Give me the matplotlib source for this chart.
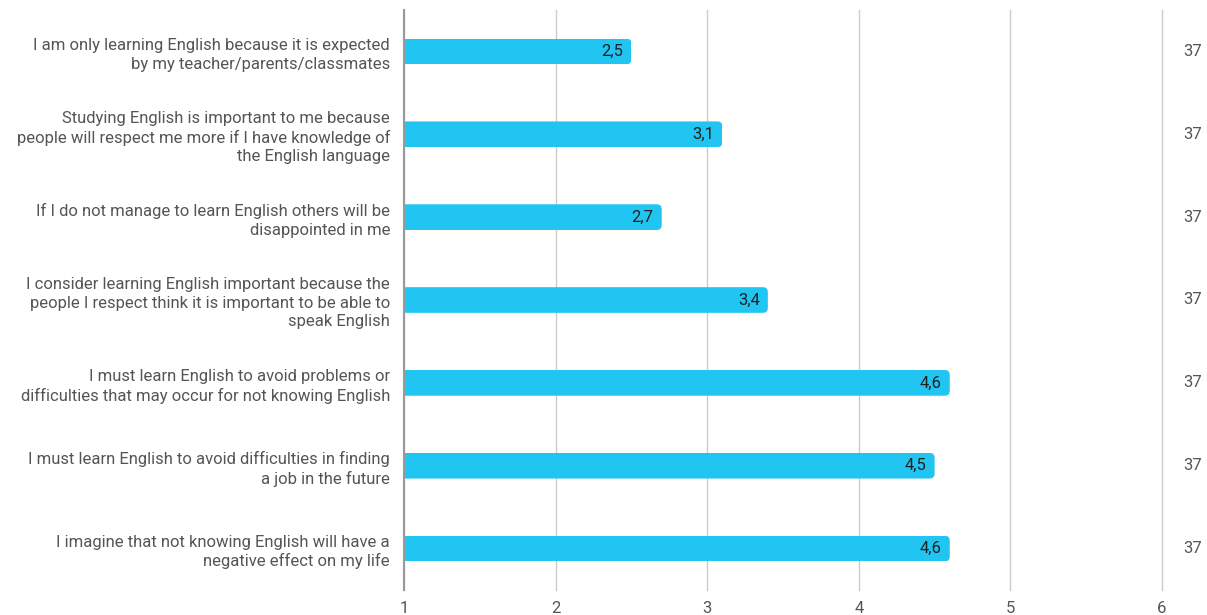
import matplotlib
matplotlib.use('Agg')
import matplotlib.pyplot as plt
from matplotlib.patches import FancyBboxPatch

statements = [
    "I am only learning English because it is expected\nby my teacher/parents/classmates",
    "Studying English is important to me because\npeople will respect me more if I have knowledge of\nthe English language",
    "If I do not manage to learn English others will be\ndisappointed in me",
    "I consider learning English important because the\npeople I respect think it is important to be able to\nspeak English",
    "I must learn English to avoid problems or\ndifficulties that may occur for not knowing English",
    "I must learn English to avoid difficulties in finding\na job in the future",
    "I imagine that not knowing English will have a\nnegative effect on my life",
]
means = [2.5, 3.1, 2.7, 3.4, 4.6, 4.5, 4.6]
counts = [37, 37, 37, 37, 37, 37, 37]
xticks = [1, 2, 3, 4, 5, 6]

plt.rcParams['font.family'] = ['Roboto', 'DejaVu Sans']

bar_color = '#21c5f2'
bar_h = 0.31

fig = plt.figure(figsize=(12.07, 6.15), dpi=100)
ax = fig.add_axes([404 / 1207, 25 / 615, (1162 - 404) / 1207, 580 / 615])
ax.set_xlim(1, 6)
ax.set_ylim(len(statements) - 0.5, -0.5)

# data units per pixel, used to keep the corner rounding circular
px_x = 5 / 758
px_y = 7 / 580
aspect = px_y / px_x

bars = ax.barh(range(len(means)), [v - 1 for v in means], left=1, height=bar_h,
               color=bar_color, zorder=3)
for i, (rect, v, n) in enumerate(zip(bars, means, counts)):
    # rounded clip shape; its left end sits outside the axes so only the right end is round
    shape = FancyBboxPatch((0.9, i - bar_h / 2), v - 0.9, bar_h,
                           boxstyle="round,pad=0,rounding_size=%f" % (5 * px_x),
                           mutation_aspect=aspect, fc='none', ec='none',
                           transform=ax.transData)
    rect.set_clip_path(shape)
    ax.text(v - 8 * px_x, i, ("%.1f" % v).replace('.', ','), ha='right', va='center',
            fontsize=12, color='#212121', zorder=4)
    ax.text(6.265, i, str(n), ha='right', va='center', fontsize=12,
            color='#555555', clip_on=False)

ax.set_yticks(range(len(statements)))
ax.set_yticklabels(statements, fontsize=12, color='#555555', ha='right', linespacing=1.3)
ax.tick_params(axis='y', length=0, pad=10)
ax.set_xticks(xticks)
ax.set_xticklabels([str(t) for t in xticks], fontsize=12, color='#555555')
ax.tick_params(axis='x', length=0, pad=8)

ax.grid(axis='x', color='#cccccc', linewidth=1, zorder=0)
for gl in ax.get_xgridlines():
    gl.set_clip_on(False)
ax.set_axisbelow(True)
for s in ['top', 'right', 'bottom']:
    ax.spines[s].set_visible(False)
ax.spines['left'].set_color('#999999')
ax.spines['left'].set_linewidth(1.5)
ax.spines['left'].set_zorder(5)

fig.savefig('out.png', dpi=100)
